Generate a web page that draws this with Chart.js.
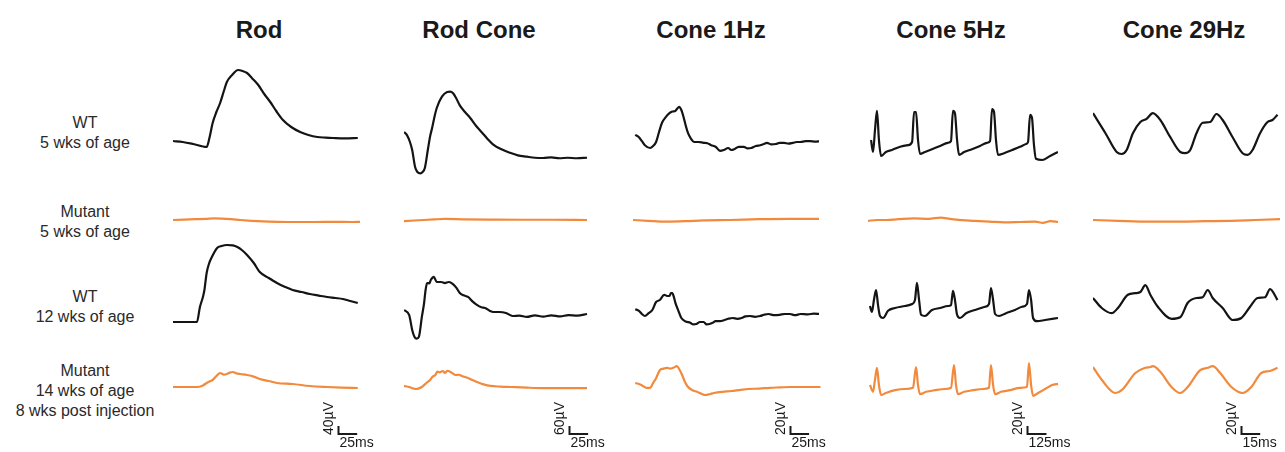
<!DOCTYPE html>
<html>
<head>
<meta charset="utf-8">
<script src="https://cdn.jsdelivr.net/npm/chart.js@4"></script>
<style>
  html, body { margin: 0; padding: 0; background: #fff; overflow: hidden; }
  #fig { position: relative; width: 1285px; height: 452px; font-family: Arial, "Liberation Sans", sans-serif; }
  .title { position: absolute; top: 16px; width: 200px; margin-left: -100px; text-align: center;
           font-weight: bold; font-size: 24px; line-height: 28px; color: #1a1a1a; }
  .rowlab { position: absolute; left: 0; width: 170px; text-align: center; font-size: 16px;
            line-height: 20px; color: #2a2a2a; }
  canvas { position: absolute; }
</style>
</head>
<body>
<div id="fig"></div>
<script>
// protocols (columns) and groups (rows)
const columns = ['Rod', 'Rod Cone', 'Cone 1Hz', 'Cone 5Hz', 'Cone 29Hz']
const rowLabels = [
  ['WT', '5 wks of age'],
  ['Mutant', '5 wks of age'],
  ['WT', '12 wks of age'],
  ['Mutant', '14 wks of age', '8 wks post injection'],
]
const sweepMs = [250, 250, 250, 1250, 150]
const barMs = [25, 25, 25, 125, 15]
const barUv = [40, 60, 20, 20, 20]
const uvPerPx = [5, 7.5, 2.5, 2.5, 2.5]

// traces: [ms, µV]
// Rod
const rodWt5 = [[0,5],[13,0],[27,-10],[45,-25],[49,25],[53,95],[58,150],[63,195],[68,255],[72,300],[79,335],[87,360],[93,355],[99,345],[106,318],[114,285],[122,240],[130,200],[138,155],[147,110],[158,75],[170,50],[181,35],[193,25],[204,22],[214,20],[230,18],[247,20]]
const rodMut5 = [[0,0],[15,2],[30,4],[45,6],[55,8],[65,7],[78,4],[90,0],[105,-4],[120,-7],[140,-9],[165,-10],[190,-10],[215,-9],[240,-10],[250,-9]]
const rodWt12 = [[0,0],[15,0],[32,0],[36,75],[40,125],[42,160],[45,245],[48,290],[52,325],[59,370],[65,380],[72,385],[80,383],[86,375],[92,360],[99,335],[108,295],[116,250],[128,220],[139,195],[150,175],[160,160],[172,150],[183,140],[195,132],[206,125],[217,120],[227,115],[237,105],[247,95]]
const rodMut14 = [[0,0],[15,0],[32,0],[40,8],[45,20],[50,30],[53,35],[58,55],[63,70],[68,62],[72,65],[76,72],[80,75],[85,68],[90,65],[99,60],[108,52],[116,40],[128,30],[139,20],[160,15],[183,5],[206,0],[225,-3],[247,-5]]
// Rod Cone
const rcWt5 = [[0,75],[4,52],[8,0],[11,-60],[15,-190],[18,-225],[22,-235],[25,-225],[28,-195],[32,-60],[35,40],[38,110],[41,190],[44,255],[51,340],[58,375],[62,378],[66,365],[70,330],[75,275],[82,225],[89,180],[97,120],[105,70],[112,25],[120,-20],[131,-55],[142,-80],[153,-100],[165,-110],[176,-118],[187,-120],[198,-115],[209,-122],[220,-118],[232,-122],[246,-118]]
const rcMut5 = [[0,-8],[20,-2],[40,4],[55,8],[80,5],[120,3],[160,2],[200,2],[246,0]]
const rcWt12 = [[0,90],[7,52],[11,-60],[14,-110],[17,-125],[20,-112],[24,38],[27,142],[29,240],[31,292],[34,290],[36,315],[40,338],[44,300],[50,300],[55,292],[60,300],[64,292],[70,260],[75,218],[80,200],[86,188],[92,155],[98,128],[104,110],[109,105],[115,85],[120,75],[128,75],[137,68],[146,45],[155,48],[165,38],[176,50],[187,40],[198,50],[210,42],[221,52],[233,48],[246,60]]
const rcMut14 = [[0,8],[7,0],[12,-10],[16,-15],[20,-10],[24,0],[30,30],[35,52],[38,75],[42,90],[45,115],[48,110],[52,120],[55,105],[58,122],[62,115],[66,100],[69,90],[74,92],[78,82],[86,68],[92,52],[98,38],[107,20],[116,8],[130,3],[143,0],[165,-5],[187,-8],[215,-8],[246,-8]]
// Cone 1Hz
const c1Wt5 = [[3,18],[8,12],[12,2],[16,-8],[23,-15],[27,-10],[31,0],[35,25],[39,48],[44,62],[49,72],[53,76],[57,78],[62,88],[65,80],[68,62],[71,40],[74,22],[78,8],[82,0],[88,0],[95,-2],[100,-3],[105,-8],[111,-12],[117,-22],[122,-20],[128,-15],[132,-20],[136,-18],[142,-12],[149,-12],[154,-16],[159,-15],[165,-10],[171,-8],[176,-5],[180,-2],[186,-6],[192,-5],[197,-2],[203,-2],[209,-4],[215,-2],[220,0],[225,0],[232,2],[238,2],[245,1],[251,2]]
const c1Mut5 = [[0,0],[20,-2],[45,-4],[70,-3],[95,-1],[130,0],[170,2],[210,3],[250,3]]
const c1Wt12 = [[3,32],[8,28],[12,20],[16,15],[21,22],[26,30],[31,50],[36,55],[42,68],[46,65],[49,65],[51,72],[53,72],[55,62],[57,48],[61,28],[65,10],[70,2],[77,-2],[81,-6],[85,-5],[90,0],[95,0],[99,-6],[103,-5],[107,-2],[111,2],[117,2],[123,5],[128,8],[134,10],[140,8],[146,10],[151,14],[157,15],[164,13],[171,15],[176,18],[182,20],[190,17],[197,18],[204,20],[211,20],[218,17],[225,20],[235,19],[243,21],[251,20]]
const c1Mut14 = [[3,10],[7,8],[11,5],[18,-2],[23,-2],[27,10],[31,22],[36,42],[41,46],[46,48],[50,46],[54,48],[59,52],[62,45],[66,30],[70,12],[74,0],[80,-8],[86,-12],[92,-17],[97,-20],[103,-18],[109,-15],[120,-12],[132,-10],[145,-7],[155,-5],[170,-4],[184,-2],[198,-1],[212,0],[230,0],[252,0]]
// Cone 5Hz
const c5Wt5 = [[20,5],[33,-25],[46,30],[59,78],[72,5],[86,-35],[118,-25],[158,-20],[211,-12],[263,-8],[290,0],[303,75],[316,75],[329,5],[342,-30],[375,-25],[421,-18],[474,-10],[526,-2],[546,2],[559,78],[572,72],[586,5],[599,-32],[632,-25],[684,-18],[737,-10],[783,-2],[803,2],[816,82],[829,75],[842,5],[855,-32],[895,-28],[948,-20],[1000,-12],[1040,-5],[1053,0],[1066,68],[1079,60],[1092,-8],[1105,-42],[1145,-45],[1198,-35],[1250,-25]]
const c5Mut5 = [[0,-2],[60,0],[120,0],[200,2],[300,4],[400,3],[480,6],[520,4],[580,1],[700,-2],[800,-4],[900,-6],[1000,-5],[1100,-4],[1150,-7],[1200,-3],[1250,-5]]
const c5Wt12 = [[13,40],[26,25],[39,55],[53,80],[66,42],[79,15],[99,10],[132,28],[178,35],[243,40],[290,45],[309,55],[322,98],[336,55],[349,18],[375,15],[421,30],[474,35],[526,40],[546,42],[559,78],[572,55],[586,18],[605,10],[645,22],[704,30],[770,38],[796,45],[809,85],[823,55],[836,20],[862,15],[908,22],[967,30],[1013,38],[1046,45],[1059,80],[1073,55],[1086,10],[1112,2],[1165,5],[1250,10]]
const c5Mut14 = [[13,5],[33,-12],[46,18],[59,48],[72,5],[86,-20],[118,-15],[178,-8],[243,-5],[296,-2],[316,50],[329,5],[342,-18],[382,-12],[441,-8],[507,-5],[546,-2],[566,55],[579,5],[592,-18],[632,-12],[691,-8],[757,-5],[796,-2],[809,55],[823,5],[836,-18],[875,-12],[934,-8],[1000,-2],[1046,0],[1059,60],[1073,5],[1086,-22],[1119,-15],[1165,-5],[1211,5],[1250,8]]
// Cone 29Hz
const c29Wt5 = [[0,72],[10,22],[19,-25],[23,-30],[27,-20],[32,22],[38,50],[43,58],[48,72],[54,55],[62,12],[70,-25],[74,-28],[78,-20],[83,22],[88,48],[94,50],[99,70],[104,55],[112,12],[120,-28],[124,-32],[128,-20],[134,22],[140,50],[144,55],[148,68]]
const c29Mut5 = [[0,0],[20,-2],[45,-4],[70,-4],[90,-3],[110,-2],[130,0],[150,2]]
const c29Wt12 = [[0,60],[7,35],[15,22],[20,35],[28,68],[34,72],[38,75],[42,92],[46,68],[52,38],[63,8],[70,12],[76,48],[83,60],[88,62],[92,80],[96,60],[104,35],[112,5],[119,10],[126,38],[132,60],[138,62],[142,82],[148,55]]
const c29Mut14 = [[0,50],[7,18],[18,-15],[23,-8],[34,35],[42,48],[46,50],[48,52],[54,38],[63,0],[70,-15],[76,0],[86,42],[92,48],[96,52],[102,35],[111,0],[120,-15],[127,0],[135,35],[142,40],[148,48]]

const traces = [
  [rodWt5, rcWt5, c1Wt5, c5Wt5, c29Wt5],
  [rodMut5, rcMut5, c1Mut5, c5Mut5, c29Mut5],
  [rodWt12, rcWt12, c1Wt12, c5Wt12, c29Wt12],
  [rodMut14, rcMut14, c1Mut14, c5Mut14, c29Mut14],
]
const rowColors = ['#141414', '#f28a3d', '#141414', '#f28a3d']

// layout (page pixels)
const colLeft = [173, 404, 633, 868, 1093]
const colWidth = [187, 186, 186, 190, 187]
const titleX = [259, 479, 711, 951, 1184]
const rowTop = [55, 200, 240, 352]
const rowHeight = [125, 40, 110, 100]
const rowZero = [142, 220, 322, 387]
const labelTop = [113, 202, 287, 361]
const barFromRight = [22, 21, 29, 31, 39]
const barY = 82
const extraRight = 40

const fig = document.getElementById('fig')

columns.forEach(function (t, c) {
  const d = document.createElement('div')
  d.className = 'title'
  d.style.left = titleX[c] + 'px'
  d.textContent = t
  fig.appendChild(d)
})

rowLabels.forEach(function (lines, r) {
  const d = document.createElement('div')
  d.className = 'rowlab'
  d.style.top = labelTop[r] + 'px'
  d.innerHTML = lines.join('<br>')
  fig.appendChild(d)
})

// L-shaped calibration bar, lengths taken from the chart's own scales
const scaleBar = {
  id: 'scaleBar',
  afterDraw(chart, args, opts) {
    if (!opts.show) return
    const ctx = chart.ctx
    const x = chart.scales.x
    const y = chart.scales.y
    const cx = Math.round(chart.chartArea.right - opts.fromRight) + 0.5
    const cy = opts.top
    const w = x.getPixelForValue(opts.ms) - x.getPixelForValue(0)
    const h = y.getPixelForValue(0) - y.getPixelForValue(opts.uv)
    ctx.save()
    ctx.strokeStyle = '#1a1a1a'
    ctx.lineWidth = 2
    ctx.beginPath()
    ctx.moveTo(cx, cy - h)
    ctx.lineTo(cx, cy)
    ctx.lineTo(cx + w, cy)
    ctx.stroke()
    ctx.fillStyle = '#1a1a1a'
    ctx.font = '14px Arial, "Liberation Sans", sans-serif'
    ctx.textAlign = 'left'
    ctx.textBaseline = 'top'
    ctx.fillText(opts.msLabel, cx + 1, cy + 2)
    ctx.translate(cx - 2, cy + 1)
    ctx.rotate(-Math.PI / 2)
    ctx.textBaseline = 'bottom'
    ctx.fillText(opts.uvLabel, 0, 0)
    ctx.restore()
  },
}

traces.forEach(function (row, r) {
  row.forEach(function (pts, c) {
    const last = r === traces.length - 1
    const cv = document.createElement('canvas')
    cv.width = colWidth[c] + (last ? extraRight : 0)
    cv.height = rowHeight[r]
    cv.style.left = colLeft[c] + 'px'
    cv.style.top = rowTop[r] + 'px'
    fig.appendChild(cv)

    const k = uvPerPx[c]
    new Chart(cv, {
      type: 'line',
      data: {
        datasets: [{
          data: pts,
          borderColor: rowColors[r],
          borderWidth: 2.2,
          pointRadius: 0,
          fill: false,
          cubicInterpolationMode: 'monotone',
          clip: false,
        }],
      },
      options: {
        responsive: false,
        animation: false,
        events: [],
        layout: { padding: { left: 0, top: 0, bottom: 0, right: last ? extraRight : 0 } },
        scales: {
          x: { type: 'linear', display: false, min: 0, max: sweepMs[c] },
          y: {
            type: 'linear', display: false,
            min: -(rowTop[r] + rowHeight[r] - rowZero[r]) * k,
            max: (rowZero[r] - rowTop[r]) * k,
          },
        },
        plugins: {
          legend: { display: false },
          tooltip: { enabled: false },
          scaleBar: {
            show: last,
            fromRight: barFromRight[c],
            top: barY,
            ms: barMs[c],
            uv: barUv[c],
            msLabel: barMs[c] + 'ms',
            uvLabel: barUv[c] + 'µV',
          },
        },
      },
      plugins: [scaleBar],
    })
  })
})
</script>
</body>
</html>
